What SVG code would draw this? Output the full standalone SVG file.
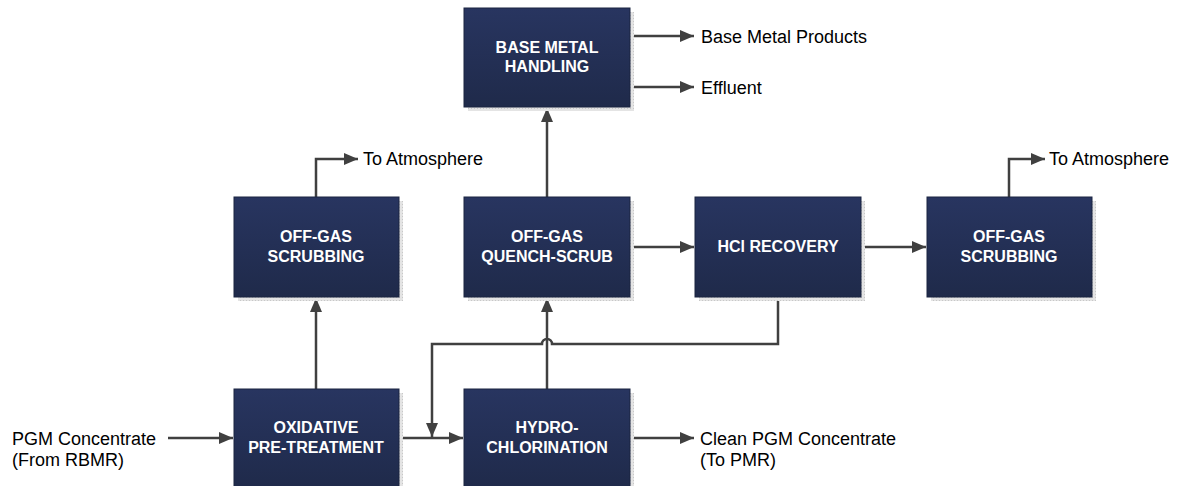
<svg xmlns="http://www.w3.org/2000/svg" width="1186" height="486" viewBox="0 0 1186 486">
<style>
.box{fill:url(#g);stroke:#1b2440;stroke-width:1}
.sh{fill:url(#hatch)}
.bt{font-family:"Liberation Sans",Arial,sans-serif;font-size:16px;font-weight:bold;fill:#ffffff;text-anchor:middle}
.lt{font-family:"Liberation Sans",Arial,sans-serif;font-size:18px;fill:#000000}
.c{fill:none;stroke:#404040;stroke-width:2.5}
</style>
<defs>
<linearGradient id="g" x1="0" y1="0" x2="0" y2="1">
<stop offset="0" stop-color="#283560"/>
<stop offset="1" stop-color="#1f2a4a"/>
</linearGradient>
<pattern id="hatch" width="3" height="3" patternUnits="userSpaceOnUse">
<rect width="3" height="3" fill="#e4e4e4"/>
<rect width="1" height="1" fill="#c8c8c8"/>
</pattern>
<marker id="ah" markerWidth="14" markerHeight="12" refX="14" refY="6" orient="auto" markerUnits="userSpaceOnUse">
<path d="M0,0 L14,6 L0,12 Z" fill="#404040"/>
</marker>
</defs>
<g id="connectors">
<path class="c" d="M630,36 L694,36" marker-end="url(#ah)"/>
<path class="c" d="M630,87 L694,87" marker-end="url(#ah)"/>
<path class="c" d="M547,197 L547,108" marker-end="url(#ah)"/>
<path class="c" d="M316,197 L316,159 L358,159" marker-end="url(#ah)"/>
<path class="c" d="M1009,197 L1009,159 L1045,159" marker-end="url(#ah)"/>
<path class="c" d="M630,247 L694,247" marker-end="url(#ah)"/>
<path class="c" d="M862,247 L926,247" marker-end="url(#ah)"/>
<path class="c" d="M316,389 L316,298" marker-end="url(#ah)"/>
<path class="c" d="M547,389 L547,298" marker-end="url(#ah)"/>
<path class="c" d="M778,297 L778,344 L552,344 A5,5 0 0 0 542,344 L432,344 L432,437" marker-end="url(#ah)"/>
<path class="c" d="M400,438 L463,438" marker-end="url(#ah)"/>
<path class="c" d="M168,438 L233,438" marker-end="url(#ah)"/>
<path class="c" d="M630,438 L694,438" marker-end="url(#ah)"/>
</g>
<g id="n-base-metal">
<rect class="sh" x="468" y="12" width="166" height="99"/>
<rect class="box" x="464" y="8" width="166" height="99"/>
<text class="bt" x="547" y="53">BASE METAL</text>
<text class="bt" x="547" y="72">HANDLING</text>
</g>
<g id="n-scrub-left">
<rect class="sh" x="238" y="201" width="165" height="100"/>
<rect class="box" x="234" y="197" width="165" height="100"/>
<text class="bt" x="316" y="242">OFF-GAS</text>
<text class="bt" x="316" y="262">SCRUBBING</text>
</g>
<g id="n-quench">
<rect class="sh" x="468" y="201" width="166" height="100"/>
<rect class="box" x="464" y="197" width="166" height="100"/>
<text class="bt" x="547" y="242">OFF-GAS</text>
<text class="bt" x="547" y="262">QUENCH-SCRUB</text>
</g>
<g id="n-hcl">
<rect class="sh" x="699" y="201" width="166" height="100"/>
<rect class="box" x="695" y="197" width="166" height="100"/>
<text class="bt" x="778" y="252">HCl RECOVERY</text>
</g>
<g id="n-scrub-right">
<rect class="sh" x="931" y="201" width="165" height="100"/>
<rect class="box" x="927" y="197" width="165" height="100"/>
<text class="bt" x="1009" y="242">OFF-GAS</text>
<text class="bt" x="1009" y="262">SCRUBBING</text>
</g>
<g id="n-oxidative">
<rect class="sh" x="238" y="393" width="165" height="100"/>
<rect class="box" x="234" y="389" width="165" height="100"/>
<text class="bt" x="316" y="433">OXIDATIVE</text>
<text class="bt" x="316" y="453">PRE-TREATMENT</text>
</g>
<g id="n-hydro">
<rect class="sh" x="468" y="393" width="166" height="100"/>
<rect class="box" x="464" y="389" width="166" height="100"/>
<text class="bt" x="547" y="433">HYDRO-</text>
<text class="bt" x="547" y="453">CHLORINATION</text>
</g>
<g id="labels">
<text class="lt" x="701" y="43">Base Metal Products</text>
<text class="lt" x="701" y="94">Effluent</text>
<text class="lt" x="363" y="165">To Atmosphere</text>
<text class="lt" x="1049" y="165">To Atmosphere</text>
<text class="lt" x="12" y="445">PGM Concentrate</text>
<text class="lt" x="12" y="466">(From RBMR)</text>
<text class="lt" x="700" y="445">Clean PGM Concentrate</text>
<text class="lt" x="700" y="466">(To PMR)</text>
</g>
</svg>
